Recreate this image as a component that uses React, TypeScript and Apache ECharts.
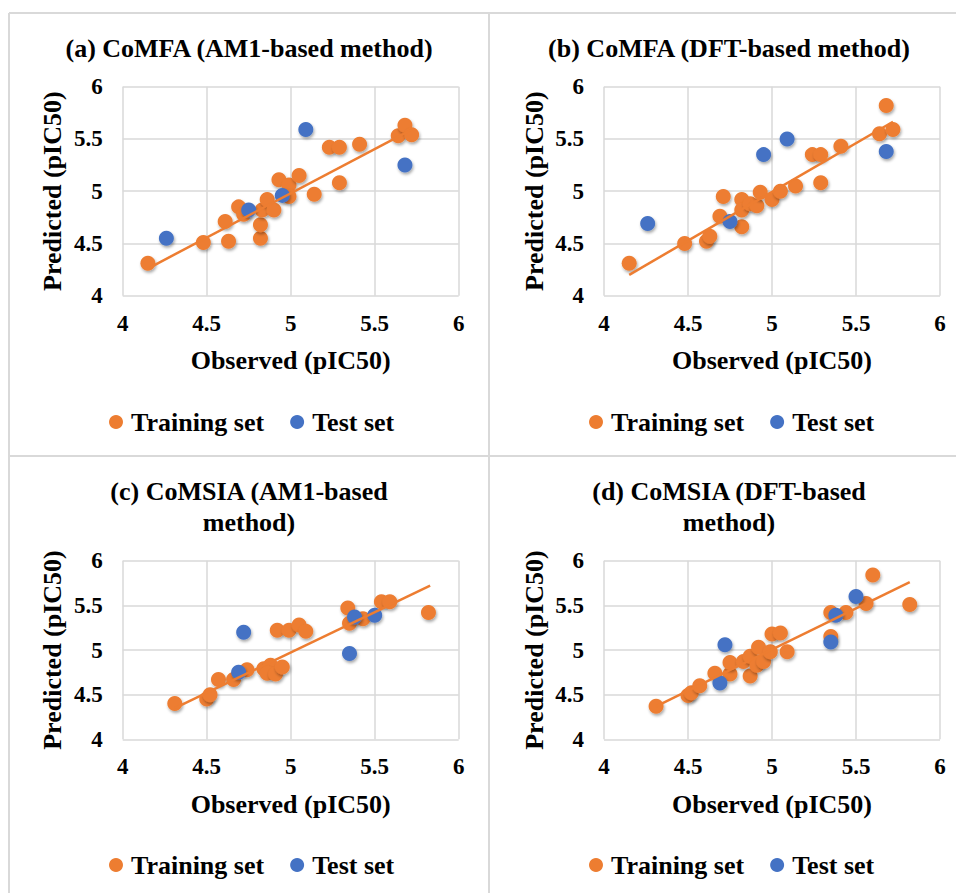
import React, { useEffect, useRef } from "react";
import * as echarts from "echarts";

// ---------- data ----------
const panelTitles = [
  "(a) CoMFA (AM1-based method)",
  "(b) CoMFA (DFT-based method)",
  "(c) CoMSIA (AM1-based\nmethod)",
  "(d) CoMSIA (DFT-based\nmethod)",
];
const xAxisTitle = "Observed (pIC50)";
const yAxisTitle = "Predicted (pIC50)";
const seriesNames = ["Training set", "Test set"];
const axisMin = 4;
const axisMax = 6;
const axisStep = 0.5;

// (a) CoMFA AM1
const trainA: number[][] = [
  [4.15, 4.31], [4.48, 4.51], [4.63, 4.52], [4.61, 4.71], [4.69, 4.85], [4.72, 4.78],
  [4.82, 4.55], [4.82, 4.68], [4.83, 4.82], [4.86, 4.92], [4.9, 4.82], [4.93, 5.11],
  [4.99, 5.06], [4.99, 4.95], [5.05, 5.15], [5.14, 4.97], [5.23, 5.42], [5.29, 5.42],
  [5.29, 5.08], [5.41, 5.45], [5.64, 5.53], [5.68, 5.63], [5.72, 5.54],
];
const testA: number[][] = [[4.26, 4.55], [4.75, 4.82], [4.95, 4.96], [5.09, 5.59], [5.68, 5.25]];
const trendA: number[][] = [[4.15, 4.26], [5.72, 5.59]];

// (b) CoMFA DFT
const trainB: number[][] = [
  [4.15, 4.31], [4.48, 4.5], [4.61, 4.52], [4.63, 4.57], [4.71, 4.95], [4.69, 4.76],
  [4.82, 4.66], [4.82, 4.92], [4.82, 4.82], [4.87, 4.88], [4.91, 4.86], [4.93, 4.99],
  [5.0, 4.92], [5.05, 5.0], [5.14, 5.05], [5.24, 5.35], [5.29, 5.35], [5.29, 5.08],
  [5.41, 5.43], [5.64, 5.55], [5.68, 5.82], [5.72, 5.59],
];
const testB: number[][] = [[4.26, 4.69], [4.75, 4.71], [4.95, 5.35], [5.09, 5.5], [5.68, 5.38]];
const trendB: number[][] = [[4.15, 4.2], [5.72, 5.665]];

// (c) CoMSIA AM1
const trainC: number[][] = [
  [4.31, 4.4], [4.5, 4.45], [4.52, 4.5], [4.57, 4.67], [4.66, 4.67], [4.74, 4.78],
  [4.84, 4.79], [4.88, 4.83], [4.86, 4.74], [4.91, 4.73], [4.95, 4.81], [4.92, 5.22],
  [4.99, 5.22], [5.05, 5.28], [5.09, 5.21], [5.34, 5.47], [5.35, 5.3], [5.43, 5.35],
  [5.54, 5.54], [5.59, 5.54], [5.82, 5.42],
];
const testC: number[][] = [[4.72, 5.2], [4.69, 4.75], [5.35, 4.96], [5.38, 5.37], [5.5, 5.39]];
const trendC: number[][] = [[4.31, 4.35], [5.83, 5.72]];

// (d) CoMSIA DFT
const trainD: number[][] = [
  [4.31, 4.37], [4.5, 4.49], [4.52, 4.52], [4.57, 4.6], [4.66, 4.74], [4.75, 4.73],
  [4.75, 4.86], [4.87, 4.71], [4.83, 4.87], [4.87, 4.93], [4.91, 4.83], [4.92, 5.03],
  [4.95, 4.87], [4.99, 4.98], [5.0, 5.18], [5.05, 5.19], [5.09, 4.98], [5.35, 5.42],
  [5.35, 5.15], [5.44, 5.42], [5.56, 5.52], [5.6, 5.84], [5.82, 5.51],
];
const testD: number[][] = [[4.72, 5.06], [4.69, 4.63], [5.35, 5.09], [5.38, 5.39], [5.5, 5.6]];
const trendD: number[][] = [[4.31, 4.37], [5.82, 5.76]];

const trainSets = [trainA, trainB, trainC, trainD];
const testSets = [testA, testB, testC, testD];
const trendSets = [trendA, trendB, trendC, trendD];

// ---------- styling / layout ----------
const FONT = "'Liberation Serif', 'Times New Roman', serif";
const ORANGE = "#ED7D31";
const BLUE = "#4472C4";
const GRID_COLOR = "#d9d9d9";

const cells = [
  { x: 9, y: 13 },
  { x: 489, y: 13 },
  { x: 9, y: 456 },
  { x: 489, y: 456 },
];
const CELL_W = 480;
const grids = [
  { left: 122.7, top: 86.7, width: 336, height: 209 },
  { left: 604, top: 86.7, width: 336, height: 209 },
  { left: 122.7, top: 560.7, width: 336, height: 178.6 },
  { left: 604, top: 560.7, width: 336, height: 178.6 },
];

export default function App() {
  const ref = useRef<HTMLDivElement>(null);

  useEffect(() => {
    if (!ref.current) return;
    const chart = echarts.init(ref.current, undefined, { renderer: "svg" });

    const markerStyle = (color: string) => ({
      color,
      opacity: 1,
      shadowBlur: 3,
      shadowColor: "rgba(0,0,0,0.35)",
      shadowOffsetX: 1,
      shadowOffsetY: 2,
    });

    const axisCommon = {
      type: "value" as const,
      min: axisMin,
      max: axisMax,
      interval: axisStep,
      axisLine: { show: false },
      axisTick: { show: false },
      splitLine: { show: true, lineStyle: { color: GRID_COLOR, width: 1.5 } },
    };

    const series: any[] = [];
    for (let i = 0; i < 4; i++) {
      series.push({
        name: seriesNames[0],
        type: "scatter",
        xAxisIndex: i,
        yAxisIndex: i,
        symbol: "circle",
        symbolSize: 15,
        itemStyle: markerStyle(ORANGE),
        data: trainSets[i],
        z: 2,
      });
      series.push({
        name: seriesNames[1],
        type: "scatter",
        xAxisIndex: i,
        yAxisIndex: i,
        symbol: "circle",
        symbolSize: 15,
        itemStyle: markerStyle(BLUE),
        data: testSets[i],
        z: 3,
      });
      series.push({
        name: "trend" + i,
        type: "line",
        xAxisIndex: i,
        yAxisIndex: i,
        symbol: "none",
        lineStyle: { color: ORANGE, width: 2.5 },
        data: trendSets[i],
        z: 4,
      });
    }

    const borderLines = [
      { x1: 9, y1: 13, x2: 956, y2: 13 },
      { x1: 9, y1: 13, x2: 9, y2: 893 },
      { x1: 489, y1: 13, x2: 489, y2: 893 },
      { x1: 9, y1: 456, x2: 956, y2: 456 },
    ].map((s) => ({
      type: "line",
      shape: s,
      style: { stroke: GRID_COLOR, lineWidth: 2 },
      silent: true,
      z: -1,
    }));

    chart.setOption({
      animation: false,
      backgroundColor: "#ffffff",
      textStyle: { fontFamily: FONT },
      title: panelTitles.map((t, i) => ({
        text: t,
        left: cells[i].x + CELL_W / 2,
        top: cells[i].y + 20,
        textAlign: "center",
        padding: 0,
        textStyle: {
          fontFamily: FONT,
          fontWeight: "bold",
          fontSize: 26,
          lineHeight: 31,
          color: "#000",
        },
      })),
      legend: cells.map((c) => ({
        data: seriesNames.map((n) => ({ name: n, itemStyle: { shadowBlur: 0, shadowOffsetX: 0, shadowOffsetY: 0 } })),
        left: c.x + 100,
        top: c.y + 396,
        padding: 0,
        icon: "circle",
        itemWidth: 14,
        itemHeight: 14,
        itemGap: 26,
        selectedMode: false,
        textStyle: {
          fontFamily: FONT,
          fontWeight: "bold",
          fontSize: 26,
          color: "#000",
          padding: [0, 0, 0, 3],
        },
      })),
      grid: grids.map((g) => ({ ...g, containLabel: false })),
      xAxis: grids.map((_, i) => ({
        ...axisCommon,
        gridIndex: i,
        name: xAxisTitle,
        nameLocation: "middle",
        nameGap: 52,
        nameTextStyle: { fontFamily: FONT, fontWeight: "bold", fontSize: 26, color: "#000" },
        axisLabel: { margin: 16, fontFamily: FONT, fontWeight: "bold", fontSize: 23, color: "#000" },
      })),
      yAxis: grids.map((_, i) => ({
        ...axisCommon,
        gridIndex: i,
        name: yAxisTitle,
        nameLocation: "middle",
        nameGap: 57,
        nameTextStyle: { fontFamily: FONT, fontWeight: "bold", fontSize: 26, color: "#000" },
        axisLabel: { margin: 20, fontFamily: FONT, fontWeight: "bold", fontSize: 23, color: "#000" },
      })),
      graphic: borderLines,
      series,
    });

    return () => chart.dispose();
  }, []);

  return (
    <div
      ref={ref}
      style={{ position: "absolute", left: 0, top: 0, width: 956, height: 893 }}
    />
  );
}
